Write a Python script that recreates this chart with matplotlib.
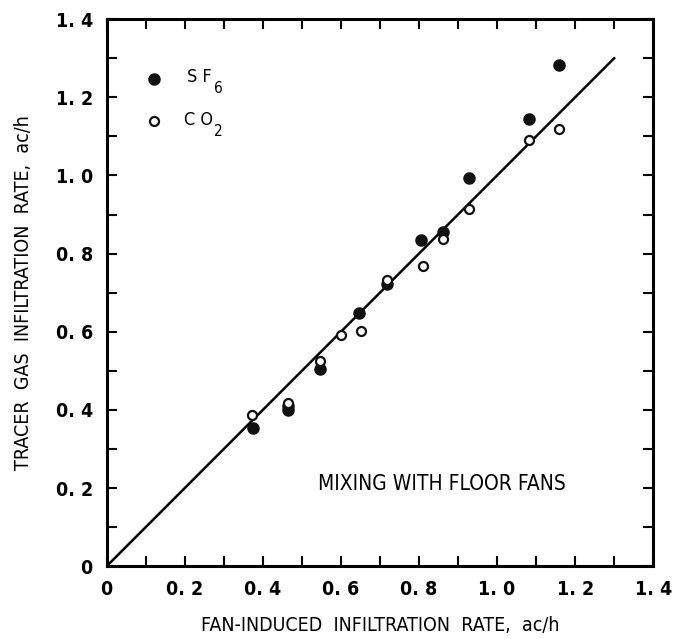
import numpy as np
import matplotlib
matplotlib.use('Agg')
import matplotlib.pyplot as plt
from matplotlib.ticker import MultipleLocator

# fan-induced rate (x) vs tracer gas rate (y), ac/h
sf6_x = [0.376, 0.464, 0.464, 0.546, 0.647, 0.717, 0.805, 0.861, 0.927, 1.081, 1.159]
sf6_y = [0.353, 0.400, 0.410, 0.504, 0.647, 0.722, 0.836, 0.856, 0.994, 1.144, 1.283]
co2_x = [0.371, 0.464, 0.546, 0.600, 0.651, 0.717, 0.809, 0.861, 0.927, 1.081, 1.159]
co2_y = [0.387, 0.418, 0.524, 0.592, 0.601, 0.732, 0.767, 0.838, 0.915, 1.091, 1.120]
fit_x = [0.0, 1.3]
fit_y = [0.0, 1.3]
tick_vals = [0, 0.2, 0.4, 0.6, 0.8, 1.0, 1.2, 1.4]
tick_labels = ['0', '0. 2', '0. 4', '0. 6', '0. 8', '1. 0', '1. 2', '1. 4']

plt.rcParams['font.family'] = ['DejaVu Sans']
plt.rcParams['font.stretch'] = 'condensed'

fig = plt.figure(figsize=(6.84, 6.39), dpi=100)
ax = fig.add_axes([0.156, 0.114, 0.799, 0.856])

ax.plot(fit_x, fit_y, color='black', lw=1.8, zorder=1)
ax.plot(sf6_x, sf6_y, 'o', ms=8, mfc='#111111', mec='#111111', zorder=2)
ax.plot(co2_x, co2_y, 'o', ms=6.5, mfc='white', mec='#111111', mew=1.6, zorder=3)

# legend drawn inside the axes like the original
ax.plot([0.12], [1.248], 'o', ms=8, mfc='#111111', mec='#111111')
ax.plot([0.12], [1.139], 'o', ms=6.5, mfc='white', mec='#111111', mew=1.6)
ax.text(0.205, 1.252, 'S F', fontsize=13, va='center', ha='left')
ax.text(0.276, 1.222, '6', fontsize=11, va='center', ha='left')
ax.text(0.199, 1.143, 'C O', fontsize=13, va='center', ha='left')
ax.text(0.276, 1.113, '2', fontsize=11, va='center', ha='left')

ax.text(0.54, 0.209, 'MIXING WITH FLOOR FANS', fontsize=15, va='center', ha='left')

ax.set_xlim(0, 1.4)
ax.set_ylim(0, 1.4)
ax.set_xticks(tick_vals)
ax.set_xticklabels(tick_labels)
ax.set_yticks(tick_vals)
ax.set_yticklabels(tick_labels)
ax.xaxis.set_minor_locator(MultipleLocator(0.1))
ax.yaxis.set_minor_locator(MultipleLocator(0.1))
ax.tick_params(which='both', direction='in', top=True, right=True, length=7, width=1.5,
               labelsize=14, pad=10)
for lbl in ax.get_xticklabels() + ax.get_yticklabels():
    lbl.set_fontweight('bold')
for s in ax.spines.values():
    s.set_linewidth(2.2)

ax.set_xlabel('FAN-INDUCED  INFILTRATION  RATE,  ac/h', fontsize=14, labelpad=12)
ax.set_ylabel('TRACER  GAS  INFILTRATION  RATE,  ac/h', fontsize=14, labelpad=16)

fig.savefig('out.png', dpi=100)
